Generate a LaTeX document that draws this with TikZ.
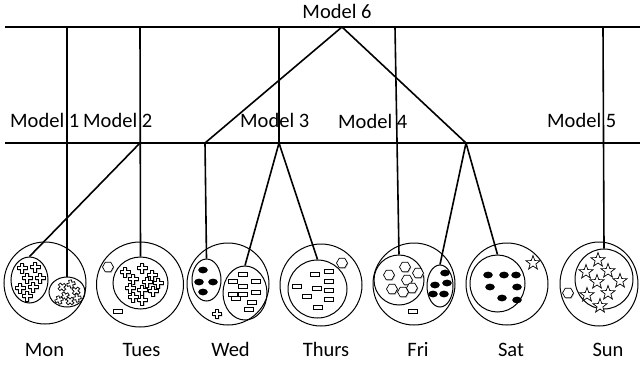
\documentclass[tikz,border=0pt]{standalone}
\usepackage{fontspec}
\setmainfont{Carlito}
\usetikzlibrary{shapes.geometric}
\begin{document}
\begin{tikzpicture}[x=1pt,y=-1pt,
  lbl/.style={inner sep=0pt, font=\fontsize{20.5}{24}\selectfont},
  wire/.style={line width=1.6pt},
  ring/.style={ellipse, draw, line width=1pt, inner sep=0pt},
  shade/.style={fill=black!30, draw=none},
  plusmark/.pic={
    \path[shade, shift={(0.9,0.9)}] (-1.7,-5) -- (1.7,-5) -- (1.7,-1.7) -- (5,-1.7) -- (5,1.7) -- (1.7,1.7) -- (1.7,5) -- (-1.7,5) -- (-1.7,1.7) -- (-5,1.7) -- (-5,-1.7) -- (-1.7,-1.7) -- cycle;
    \draw[fill=white, line width=0.7pt] (-1.7,-5) -- (1.7,-5) -- (1.7,-1.7) -- (5,-1.7) -- (5,1.7) -- (1.7,1.7) -- (1.7,5) -- (-1.7,5) -- (-1.7,1.7) -- (-5,1.7) -- (-5,-1.7) -- (-1.7,-1.7) -- cycle;
  },
  hexmark/.pic={
    \path[shade, shift={(0.8,0.8)}] (0:5.5) -- (60:5.5) -- (120:5.5) -- (180:5.5) -- (240:5.5) -- (300:5.5) -- cycle;
    \draw[fill=white, line width=0.7pt] (0:5.5) -- (60:5.5) -- (120:5.5) -- (180:5.5) -- (240:5.5) -- (300:5.5) -- cycle;
  },
  starmark/.pic={
    \draw[fill=white, line width=0.7pt] (-90:7.5) -- (-54:3) -- (-18:7.5) -- (18:3) -- (54:7.5) -- (90:3) -- (126:7.5) -- (162:3) -- (198:7.5) -- (234:3) -- cycle;
  },
  barmark/.pic={
    \path[shade] (-3.7,-1.2) rectangle (5.3,2.8);
    \draw[fill=white, line width=0.7pt] (-4.5,-2) rectangle (4.5,2);
  },
  blobmark/.pic={
    \fill (0,0) ellipse [x radius=4.8, y radius=3.4];
  }]

\fill[white] (0,0) rectangle (640,367);
\useasboundingbox (0,0) rectangle (640,367);

% ---------- labels of the two levels ----------
\node[lbl, anchor=base] (m6) at (337,18) {Model 6};
\node[lbl, anchor=base west] (m1) at (10,127) {Model 1};
\node[lbl, anchor=base west] (m2) at (83,127) {Model 2};
\node[lbl, anchor=base west] (m3) at (240,127) {Model 3};
\node[lbl, anchor=base west] (m4) at (338,128) {Model 4};
\node[lbl, anchor=base west] (m5) at (547,127) {Model 5};

% ---------- day groups ----------
\node[ring, minimum width=82pt, minimum height=82pt] (monO) at (45,283) {};
\node[ring, minimum width=37pt, minimum height=46pt] (monL) at (29.5,280) {};
\node[ring, minimum width=36pt, minimum height=30pt] (monR) at (67,292) {};

\node[ring, minimum width=87pt, minimum height=85pt] (tueO) at (140,284.5) {};
\node[ring, minimum width=55pt, minimum height=52pt] (tueI) at (140.5,283) {};

\node[ring, minimum width=82pt, minimum height=82pt] (wedO) at (228,284) {};
\node[ring, minimum width=29pt, minimum height=42pt] (wedL) at (206.5,280) {};
\node[ring, minimum width=44pt, minimum height=54pt] (wedR) at (245,293) {};

\node[ring, minimum width=82pt, minimum height=82pt] (thuO) at (321,285) {};
\node[ring, minimum width=59pt, minimum height=58pt] (thuI) at (317.5,289) {};

\node[ring, minimum width=82pt, minimum height=82pt] (friO) at (414,284) {};
\node[ring, minimum width=50pt, minimum height=50pt] (friL) at (399,280) {};
\node[ring, minimum width=26pt, minimum height=42pt] (friR) at (440,286) {};

\node[ring, minimum width=82pt, minimum height=82pt] (satO) at (507,284) {};
\node[ring, minimum width=55pt, minimum height=57pt] (satI) at (497.5,283.5) {};

\node[ring, minimum width=78pt, minimum height=84pt] (sunO) at (599,284) {};
\node[ring, minimum width=58pt, minimum height=60pt] (sunI) at (604,279) {};

% ---------- day names ----------
\node[lbl, anchor=base] (dMon) at (44.5,356) {Mon};
\node[lbl, anchor=base] (dTue) at (141.5,356) {Tues};
\node[lbl, anchor=base] (dWed) at (230.5,356) {Wed};
\node[lbl, anchor=base] (dThu) at (326,356) {Thurs};
\node[lbl, anchor=base] (dFri) at (418,356) {Fri};
\node[lbl, anchor=base] (dSat) at (511,356) {Sat};
\node[lbl, anchor=base] (dSun) at (608,356) {Sun};

% ---------- tree wiring ----------
\coordinate (topL) at (5,27);
\coordinate (topR) at (640,27);
\coordinate (lowL) at (5,143);
\coordinate (lowR) at (640,143);
\coordinate (apex) at (342,27);
\coordinate (t1) at (67,27);
\coordinate (t2) at (140,27);
\coordinate (t3) at (279,27);
\coordinate (t4) at (395,27);
\coordinate (t5) at (603,27);
\coordinate (j2) at (140,143);
\coordinate (j3) at (279,143);
\coordinate (j6a) at (205,143);
\coordinate (j6b) at (466,143);

\draw[wire] (topL) -- (topR);
\draw[wire] (lowL) -- (lowR);

\draw[wire] (t1) -- (monR.north);
\draw[wire] (t2) -- (tueI.north);
\draw[wire] (j2) -- (monL.north);
\draw[wire] (t3) -- (j3);
\draw[wire] (j3) -- (wedR.north);
\draw[wire] (j3) -- (thuI.north);
\draw[wire] (t4) -- (friL.north);
\draw[wire] (t5) -- (sunI.north);
\draw[wire, line join=miter] (j6a) -- (apex) -- (j6b);
\draw[wire] (j6a) -- (wedL.north);
\draw[wire] (j6b) -- (friR.north);
\draw[wire] (j6b) -- (satI.north);

% ---------- Mon contents ----------
\foreach \p in {(22,268),(35,267),(27,278),(40,278),(20,288),(33,287),(27,296)}
  \pic at \p {plusmark};
\foreach \p/\a in {(62,287)/40,(71,284)/15,(76,291)/50,(65,296)/30,(77,298)/10,(70,301)/45,(59,300)/20}
  \pic[scale=0.8, rotate=\a] at \p {plusmark};

% ---------- Tues contents ----------
\pic at (108,267) {hexmark};
\pic at (118,311) {barmark};
\foreach \p in {(125,272),(142,268),(152,275),(133,279),(147,282),(158,283),(130,288),(142,290),(153,291),(133,297),(142,300)}
  \pic at \p {plusmark};

% ---------- Wed contents ----------
\foreach \p in {(203,270),(199,282),(213,282),(203,292)}
  \pic at \p {blobmark};
\foreach \p in {(243,274),(233,281),(256,281),(243,286),(233,294),(243,294),(256,292),(236,298),(252,302),(249,309)}
  \pic at \p {barmark};
\pic[scale=0.9] at (217,314) {plusmark};

% ---------- Thurs contents ----------
\foreach \p in {(297,286),(315,274),(329,271),(329,281),(317,288),(329,290),(307,296),(329,299),(318,307)}
  \pic at \p {barmark};
\pic at (342,263) {hexmark};

% ---------- Fri contents ----------
\foreach \p in {(389,275),(405,267),(418,273),(407,280),(392,289),(403,292),(412,288)}
  \pic at \p {hexmark};
\pic at (413,311) {barmark};
\foreach \p in {(445,273),(435,285),(447,283),(433,294),(444,294)}
  \pic at \p {blobmark};

% ---------- Sat contents ----------
\pic at (533,263) {starmark};
\foreach \p in {(488,275),(504,275),(516,275),(490,287),(517,287),(502,298),(517,300)}
  \pic at \p {blobmark};

% ---------- Sun contents ----------
\pic at (568,293) {hexmark};
\foreach \p in {(598,260),(586,272),(608,271),(597,282),(620,281),(587,295),(608,293),(600,306)}
  \pic at \p {starmark};

\end{tikzpicture}
\end{document}
